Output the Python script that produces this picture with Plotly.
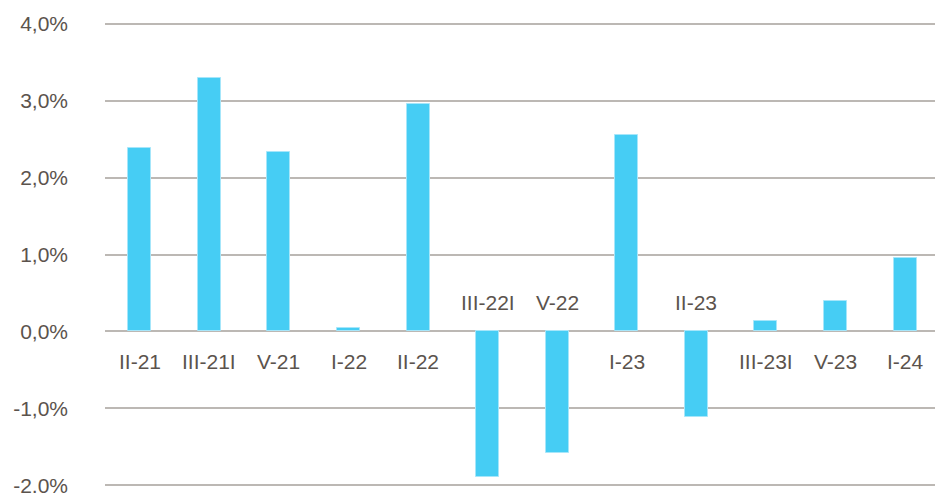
import plotly.graph_objects as go

categories = ["II-21", "III-21I", "V-21", "I-22", "II-22", "III-22I", "V-22",
              "I-23", "II-23", "III-23I", "V-23", "I-24"]
values = [2.38, 3.29, 2.33, 0.04, 2.96, -1.89, -1.58, 2.56, -1.11, 0.14, 0.40, 0.95]
y_ticks = [-2, -1, 0, 1, 2, 3, 4]
y_tick_labels = ["-2,0%", "-1,0%", "0,0%", "1,0%", "2,0%", "3,0%", "4,0%"]

bar_color = "#46cdf4"
text_color = "#5b534d"
grid_color = "#bcb8b4"
font_family = "Liberation Sans, Arial, sans-serif"

fig = go.Figure()
fig.add_trace(go.Bar(
    x=list(range(len(categories))),
    y=values,
    width=0.33,
    marker=dict(color=bar_color, line=dict(color="#a6e6fa", width=1)),
    hoverinfo="skip",
))

for i, (cat, v) in enumerate(zip(categories, values)):
    fig.add_annotation(
        x=i, y=0, text=cat, showarrow=False,
        yshift=-30 if v >= 0 else 29,
        font=dict(family=font_family, size=21, color=text_color),
        xanchor="center", yanchor="middle",
    )

fig.update_layout(
    width=935, height=493,
    margin=dict(l=104.5, r=0, t=19.8, b=3.5, autoexpand=False),
    paper_bgcolor="white", plot_bgcolor="white",
    showlegend=False,
    font=dict(family=font_family, size=21, color=text_color),
    xaxis=dict(range=[-0.5, 11.43], showticklabels=False, showgrid=False,
               zeroline=False, showline=False, fixedrange=True, automargin=False),
    yaxis=dict(range=[-2.05, 4.05], tickvals=y_ticks, ticktext=y_tick_labels,
               showgrid=True, gridcolor=grid_color, gridwidth=2,
               zeroline=True, zerolinecolor=grid_color, zerolinewidth=2,
               showline=False, ticklabelstandoff=36, ticklabeloverflow="allow",
               automargin=False,
               tickfont=dict(family=font_family, size=21, color=text_color)),
    bargap=0,
)

fig.write_html("out.html")
